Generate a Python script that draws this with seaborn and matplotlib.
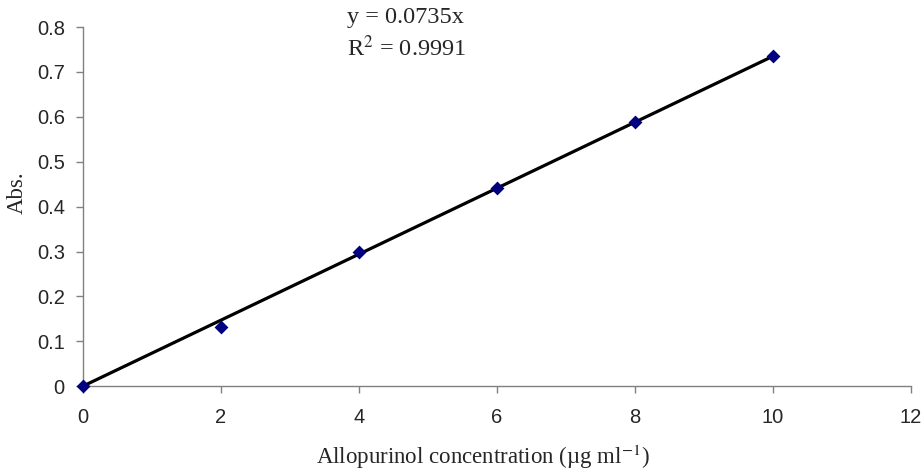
import matplotlib
matplotlib.use("Agg")
import matplotlib.pyplot as plt
import seaborn as sns
import numpy as np
import pandas as pd

conc = [0, 2, 4, 6, 8, 10]
absorb = [0.0, 0.132, 0.298, 0.442, 0.589, 0.735]
slope = 0.0735
fit_x = [0, 10]
fit_y = [slope * v for v in fit_x]
eq_text = "y = 0.0735x"
r2_text = "R$^{2}$ = 0.9991"

sns.set_style("ticks")
plt.rcParams["font.family"] = ["Liberation Sans", "DejaVu Sans"]
plt.rcParams["mathtext.fontset"] = "stix"

fig = plt.figure(figsize=(9.21, 4.75), dpi=100)
ax = fig.add_axes([0.090, 0.187, 0.899, 0.756])

df_pts = pd.DataFrame({"x": conc, "y": absorb})
df_fit = pd.DataFrame({"x": fit_x, "y": fit_y})

sns.lineplot(data=df_fit, x="x", y="y", ax=ax, color="black", linewidth=2.3, zorder=2)
sns.scatterplot(data=df_pts, x="x", y="y", ax=ax, marker="D", s=50, color="#000080",
                edgecolor="#000080", linewidth=0, zorder=3, clip_on=False)

ax.set_xlim(0, 12)
ax.set_ylim(0, 0.8)
ax.set_xticks(range(0, 13, 2))
ax.set_yticks(np.arange(0, 0.81, 0.1))
ax.set_yticklabels(["0"] + [f"{v:.1f}" for v in np.arange(0.1, 0.81, 0.1)])
ax.tick_params(axis="both", labelsize=14.5, length=5, width=1, color="#808080", direction="out")
ax.tick_params(axis="x", pad=11)
ax.tick_params(axis="y", pad=8)
for s in ["top", "right"]:
    ax.spines[s].set_visible(False)
for s in ["left", "bottom"]:
    ax.spines[s].set_color("#808080")
    ax.spines[s].set_linewidth(1)

ax.set_xlabel("Allopurinol concentration (µg ml$^{-1}$)", family="Liberation Serif",
              fontsize=16.5)
ax.xaxis.set_label_coords(0.483, -0.158)
ax.set_ylabel("Abs.", family="Liberation Serif", fontsize=16.5)
ax.yaxis.set_label_coords(-0.066, 0.538)

fig.text(347 / 921, 1 - 18 / 475, eq_text, family="Liberation Serif", fontsize=17.5,
         va="center", ha="left")
fig.text(347 / 921, 1 - 48 / 475, r2_text, family="Liberation Serif", fontsize=17.5,
         va="center", ha="left")

fig.savefig("out.png", dpi=100)
